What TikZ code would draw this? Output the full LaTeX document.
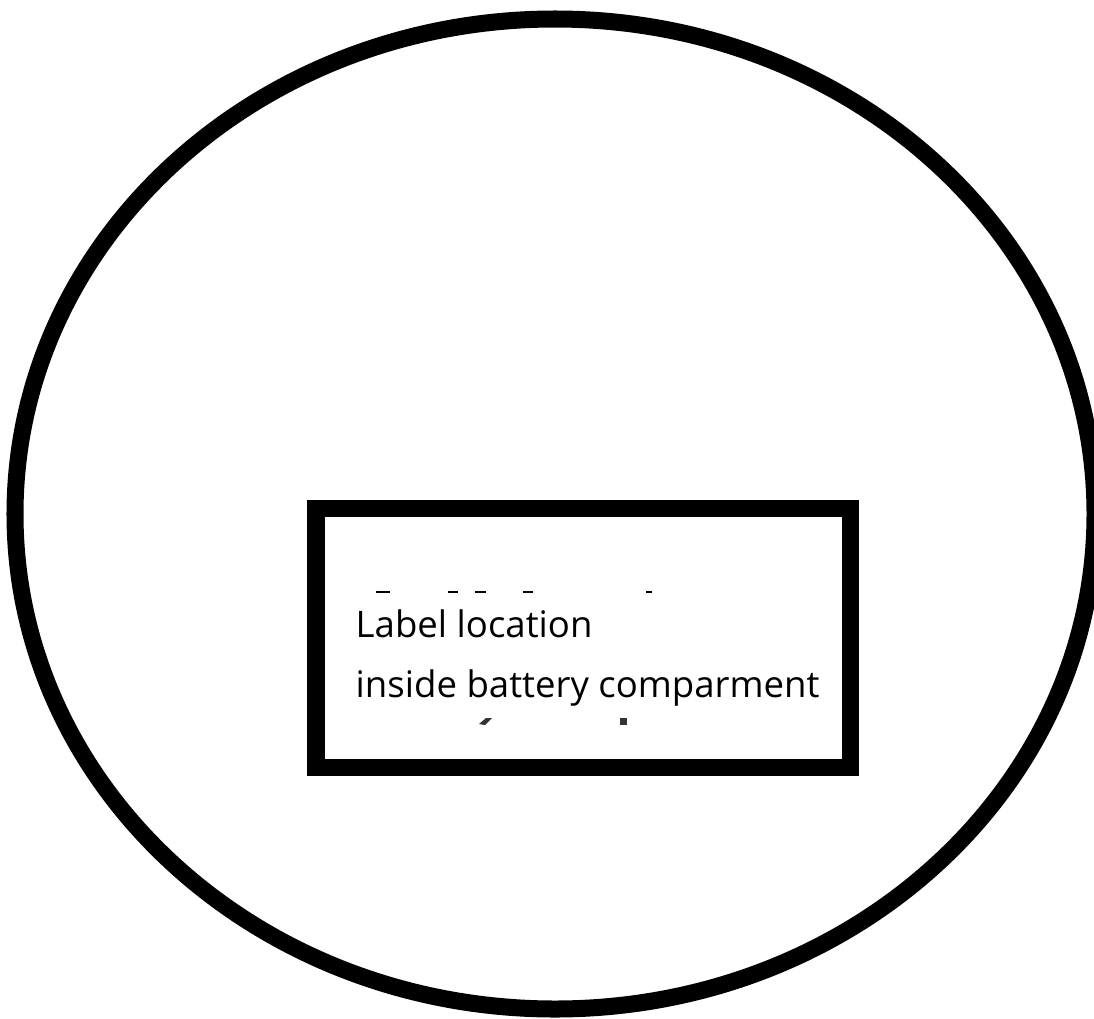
\documentclass[tikz,border=0pt]{standalone}
\usepackage{fontspec}
\setmainfont{Open Sans}
\begin{document}
\begin{tikzpicture}[x=.01cm,y=-.01cm]
\useasboundingbox (0,0) rectangle (1094,1018);
\draw[line width=.17cm] (555,514) ellipse [x radius=540,y radius=495];
\draw[line width=.17cm] (316,508) rectangle (850,767);
\node[anchor=base west,inner sep=0pt,text=black,font=\fontsize{10.4}{12}\selectfont] (line1) at (355,637) {Label location};
\node[anchor=base west,inner sep=0pt,text=black,font=\fontsize{10.4}{12}\selectfont] (line2) at (355,697) {inside battery comparment};
% specks left of cut-off text
\fill (376,591) rectangle (390,593);
\fill (448,591) rectangle (458,593);
\fill (475,591) rectangle (486,593);
\fill (523,591) rectangle (533,593);
\fill (646,591) rectangle (652,593);
\fill[black!80] (479,724) -- (486,718) -- (492,718) -- (485,725) -- cycle;
\fill[black!80] (620,718) rectangle (627,725);
\end{tikzpicture}
\end{document}
